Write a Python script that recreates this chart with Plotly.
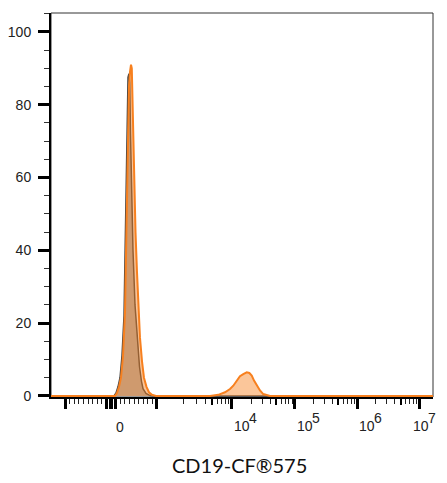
import numpy as np
import plotly.graph_objects as go

# ---------------- data (fluorescence values, % of max) ----------------
control_x = [-1500, 65, 109, 152, 196, 239, 283, 304, 326, 348, 370, 391, 408, 424, 446,
             478, 522, 576, 620, 663, 696, 761, 848, 957, 2e7]
control_y = [0, 0, 0.8, 2.5, 5, 11, 22, 38, 60, 80, 87.5, 88.5, 86, 72, 54,
             40, 25, 15, 8, 4, 2, 0.7, 0.1, 0, 0]

sample_x = [-1500, 87, 130, 174, 217, 261, 304, 326, 348, 370, 391, 413, 435, 452, 467,
            485, 507, 533, 565, 598, 630, 674, 717, 772, 826, 891, 978,
            4700, 6220, 7860, 9380, 10550, 11900, 13400, 15100, 17100, 18800, 20500,
            22300, 24600, 27700, 31200, 35400, 40000, 2e7]
sample_y = [0, 0, 0.8, 2.5, 5, 11, 23, 38, 58, 76, 85, 89, 91, 90, 82,
            68, 55, 45, 34, 24, 16, 9.5, 5, 2.5, 1, 0.3, 0,
            0, 0.3, 1.0, 1.9, 2.8, 4.2, 5.4, 6.0, 6.5, 6.3, 5.6,
            4.2, 2.8, 1.5, 0.5, 0.2, 0, 0]

x_label_vals = [0, 1e4, 1e5, 1e6, 1e7]
x_label_base = ["0", "10", "10", "10", "10"]
x_label_exp = ["", "4", "5", "6", "7"]
x_major_vals = [-1000, -100, -10, 0, 10, 100, 1000, 1e4, 1e5, 1e6, 1e7]
x_mid_vals = [5e3, 5e4, 5e5, 5e6]
x_minor_vals = ([-v for v in range(200, 1000, 100)] + list(range(200, 1000, 100)) +
                [k * 10 ** n for n in range(3, 7) for k in (2, 3, 4, 6, 7, 8, 9)])
y_tick_vals = [0, 20, 40, 60, 80, 100]
x_title = "CD19-CF®575"

# ---------------- biexponential-like display transform ----------------
LIN = 1000.0
LIN_W = 0.74
B = 400.0


def T(v):
    v = np.asarray(v, dtype=float)
    a = np.abs(v)
    out = np.where(a <= LIN, a / LIN * LIN_W,
                   LIN_W + np.log10(np.maximum(a - B, 1e-9) / (LIN - B)))
    return np.sign(v) * out


XR = [-0.966, 5.183]
FONT = "Arial, Liberation Sans"

fig = go.Figure()
fig.add_trace(go.Scatter(x=T(control_x), y=control_y, mode="lines", fill="tozeroy",
                         line=dict(color="#444444", width=1.5),
                         fillcolor="rgba(80,80,80,0.45)", hoverinfo="skip"))
fig.add_trace(go.Scatter(x=T(sample_x), y=sample_y, mode="lines", fill="tozeroy",
                         line=dict(color="#f7801f", width=2),
                         fillcolor="rgba(247,128,31,0.45)", hoverinfo="skip"))
fig.add_trace(go.Scatter(x=[None], y=[None], xaxis="x2", showlegend=False, hoverinfo="skip"))

# page body has an 8px default margin, so the figure is 8px smaller and shifted
fig.update_layout(
    width=439, height=475,
    margin=dict(l=43, r=14, t=5, b=86, autoexpand=False),
    paper_bgcolor="white", plot_bgcolor="white",
    showlegend=False,
    xaxis=dict(range=XR, tickmode="array", tickvals=T(x_major_vals).tolist(),
               showticklabels=False, ticks="outside", ticklen=10, tickwidth=2.5,
               tickcolor="black", showgrid=False, zeroline=False, automargin=False,
               showline=True, linecolor="black", linewidth=2,
               minor=dict(tickmode="array", tickvals=T(x_minor_vals).tolist(),
                          ticks="outside", ticklen=5, tickwidth=1, tickcolor="#222",
                          showgrid=False)),
    xaxis2=dict(range=XR, overlaying="x", anchor="y", side="bottom", matches="x",
                tickmode="array", tickvals=T(x_mid_vals).tolist(), automargin=False,
                showticklabels=False, ticks="outside", ticklen=7, tickwidth=2,
                tickcolor="black", showgrid=False, zeroline=False, showline=False),
    yaxis=dict(range=[-0.3, 105.2], tickmode="array", tickvals=y_tick_vals,
               ticks="outside", ticklen=11, tickwidth=3, tickcolor="black",
               showgrid=False, zeroline=False, showline=True, linecolor="black",
               linewidth=2, ticklabelstandoff=4, automargin=False,
               tickfont=dict(family=FONT, size=14, color="#222"),
               minor=dict(dtick=5, ticks="outside", ticklen=5, tickwidth=1,
                          tickcolor="#333", showgrid=False)),
    shapes=[dict(type="rect", xref="paper", yref="paper", x0=0, x1=1, y0=0, y1=1,
                 line=dict(color="#333", width=1), layer="below")],
)

annotations = []
last_v = max(x_label_vals)
for v, b, e in zip(x_label_vals, x_label_base, x_label_exp):
    if e == "":
        annotations.append(dict(x=float(T(v)), y=0, xref="x", yref="paper", text=b,
                                showarrow=False, xanchor="center", yanchor="middle",
                                xshift=8.5, yshift=-29.5,
                                font=dict(family=FONT, size=14, color="#222")))
    else:
        dx = -8 if v == last_v else 0
        annotations.append(dict(x=float(T(v)), y=0, xref="x", yref="paper", text=b,
                                showarrow=False, xanchor="left", yanchor="middle",
                                xshift=dx, yshift=-28.5,
                                font=dict(family=FONT, size=14, color="#222")))
        annotations.append(dict(x=float(T(v)), y=0, xref="x", yref="paper", text=e,
                                showarrow=False, xanchor="left", yanchor="middle",
                                xshift=dx + 15, yshift=-20.5,
                                font=dict(family=FONT, size=14, color="#222")))
annotations.append(dict(x=0.5, y=0, xref="paper", yref="paper", text=x_title,
                        showarrow=False, xanchor="center", yanchor="middle",
                        xshift=-3, yshift=-68,
                        font=dict(family="Lato", size=20, color="#111")))
fig.update_layout(annotations=annotations)

fig.write_html("out.html")
